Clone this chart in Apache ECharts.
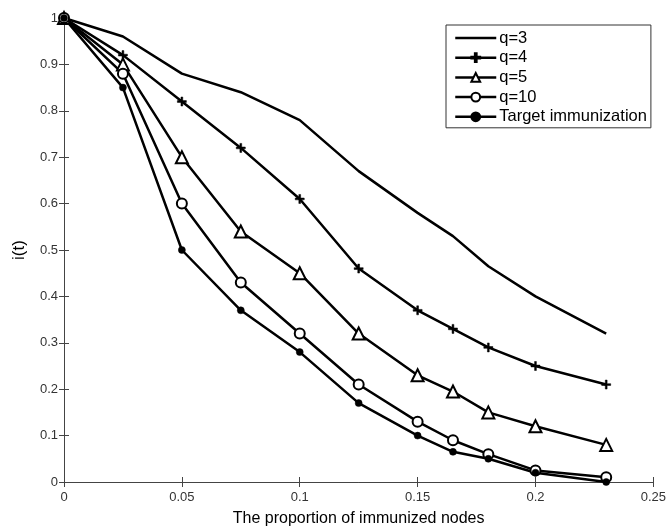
<!DOCTYPE html>
<html>
<head>
<meta charset="utf-8">
<script src="https://cdn.jsdelivr.net/npm/echarts@6/dist/echarts.min.js"></script>
<style>
  html, body { margin: 0; padding: 0; background: #fff; }
  #chart { width: 669px; height: 532px; }
</style>
</head>
<body>
<div id="chart"></div>
<script>
// proportion of immunized nodes
const xs = [0, 0.025, 0.05, 0.075, 0.1, 0.125, 0.15, 0.165, 0.18, 0.2, 0.23]

const q3 = [1, 0.96, 0.88, 0.84, 0.78, 0.67, 0.58, 0.53, 0.465, 0.40, 0.32]
const q4 = [1, 0.92, 0.82, 0.72, 0.61, 0.46, 0.37, 0.33, 0.29, 0.25, 0.21]
const q5 = [1, 0.90, 0.70, 0.54, 0.45, 0.32, 0.23, 0.195, 0.15, 0.12, 0.08]
const q10 = [1, 0.88, 0.60, 0.43, 0.32, 0.21, 0.13, 0.09, 0.06, 0.025, 0.01]
const target = [1, 0.85, 0.50, 0.37, 0.28, 0.17, 0.10, 0.065, 0.05, 0.02, 0.0]

const names = ['q=3', 'q=4', 'q=5', 'q=10', 'Target immunization']
const xTicks = [0, 0.05, 0.1, 0.15, 0.2, 0.25]

const font = 'Liberation Sans, Arial, Helvetica, sans-serif'
const plus = 'path://M4,0h2v4h4v2h-4v4h-2v-4h-4v-2h4z'

function pairs(ys) {
    return xs.map((x, i) => [x, ys[i]])
}

function line(name, ys, symbol, size, fill) {
    return {
        name,
        type: 'line',
        data: pairs(ys),
        symbol,
        symbolSize: size,
        showSymbol: symbol !== 'none',
        lineStyle: { color: '#000', width: 2.5 },
        itemStyle: { color: fill, borderColor: '#000', borderWidth: fill === '#fff' ? 2 : 0.5 },
        emphasis: { disabled: true },
        z: 3,
    }
}

const chart = echarts.init(document.getElementById('chart'))

const tickStyle = { show: true, inside: true, length: 5, lineStyle: { color: '#444', width: 1 } }

// q=3 has no marker, hide the legend dot
const legendData = names.map((n, i) =>
    i === 0 ? { name: n, itemStyle: { color: 'rgba(0,0,0,0)', borderWidth: 0 } } : { name: n }
)

chart.setOption({
    animation: false,
    backgroundColor: '#fff',
    grid: { left: 64, right: 12, top: 18, bottom: 42 },
    legend: {
        data: legendData,
        orient: 'vertical',
        left: 446,
        top: 25,
        itemWidth: 41,
        itemHeight: 11,
        itemGap: 1.7,
        padding: [4, 4, 2, 8],
        borderColor: '#333',
        borderWidth: 1,
        backgroundColor: '#fff',
        lineStyle: { color: '#000', width: 2.5 },
        textStyle: { fontFamily: font, fontSize: 16.5, lineHeight: 18, color: '#000', padding: [0, 0, 0, -2] },
    },
    xAxis: [
        {
            type: 'value',
            min: 0,
            max: 0.25,
            interval: 0.05,
            name: 'The proportion of immunized nodes',
            nameLocation: 'middle',
            nameGap: 29,
            nameTextStyle: { fontFamily: font, fontSize: 16, color: '#000' },
            axisLine: { lineStyle: { color: '#444', width: 1 } },
            axisTick: tickStyle,
            axisLabel: {
                fontFamily: font,
                fontSize: 13,
                color: '#333',
                margin: 9,
                formatter: v => (xTicks.includes(+v.toFixed(2)) ? String(+v.toFixed(2)) : ''),
            },
            splitLine: { show: false },
        },
        {
            type: 'value',
            position: 'top',
            min: 0,
            max: 0.25,
            interval: 0.05,
            axisLine: { show: true, lineStyle: { color: '#444', width: 1 } },
            axisTick: tickStyle,
            axisLabel: { show: false },
            splitLine: { show: false },
        },
    ],
    yAxis: [
        {
            type: 'value',
            min: 0,
            max: 1,
            interval: 0.1,
            name: 'i(t)',
            nameLocation: 'middle',
            nameGap: 36,
            nameTextStyle: { fontFamily: font, fontSize: 17, color: '#000' },
            axisLine: { show: true, lineStyle: { color: '#444', width: 1 } },
            axisTick: tickStyle,
            axisLabel: {
                fontFamily: font,
                fontSize: 13,
                color: '#333',
                margin: 6,
                formatter: v => String(+v.toFixed(1)),
            },
            splitLine: { show: false },
        },
        {
            type: 'value',
            position: 'right',
            min: 0,
            max: 1,
            interval: 0.1,
            axisLine: { show: true, lineStyle: { color: '#444', width: 1 } },
            axisTick: tickStyle,
            axisLabel: { show: false },
            splitLine: { show: false },
        },
    ],
    series: [
        line(names[0], q3, 'none', 0, '#000'),
        line(names[1], q4, plus, 9, '#000'),
        line(names[2], q5, 'triangle', 12, '#fff'),
        line(names[3], q10, 'circle', 10, '#fff'),
        line(names[4], target, 'circle', 7, '#000'),
    ],
})
</script>
</body>
</html>
